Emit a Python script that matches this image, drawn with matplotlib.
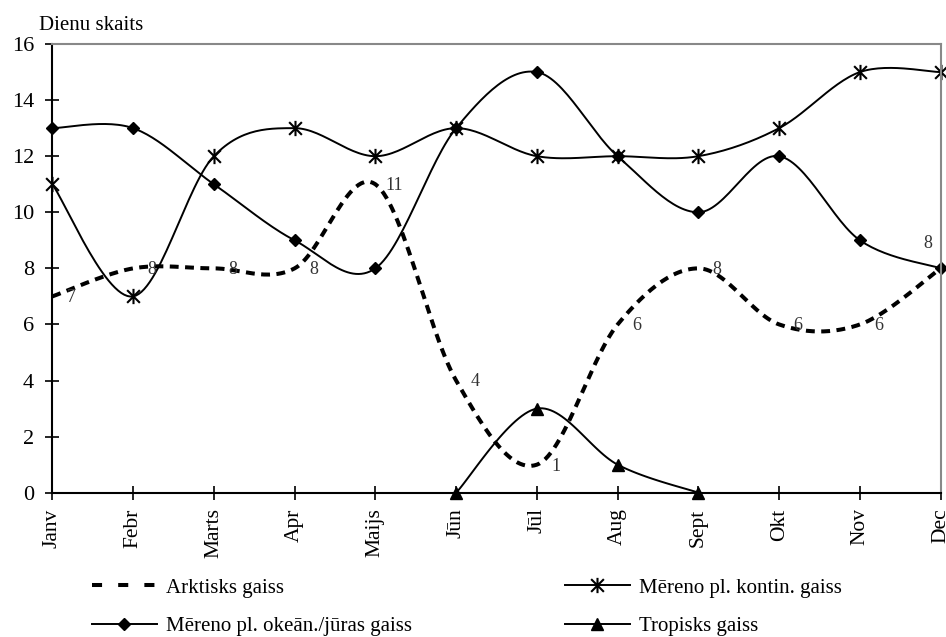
import numpy as np
import matplotlib.pyplot as plt
from matplotlib.path import Path
from matplotlib.lines import Line2D

plt.rcParams['font.family'] = ['Liberation Serif', 'DejaVu Serif']

months = ['Janv', 'Febr', 'Marts', 'Apr', 'Maijs', 'Jūn', 'Jūl', 'Aug',
          'Sept', 'Okt', 'Nov', 'Dec']
arktisks = [7, 8, 8, 8, 11, 4, 1, 6, 8, 6, 6, 8]
kontin = [11, 7, 12, 13, 12, 13, 12, 12, 12, 13, 15, 15]
okeans = [13, 13, 11, 9, 8, 13, 15, 12, 10, 12, 9, 8]
trop_start = 5  # Jūn
tropisks = [0, 3, 1, 0]

names = ['Arktisks gaiss', 'Mēreno pl. kontin. gaiss',
         'Mēreno pl. okeān./jūras gaiss', 'Tropisks gaiss']


def smooth(xs, ys, n=30):
    # bezier smoothing like spreadsheet "smoothed line"
    xs = np.asarray(xs, float)
    ys = np.asarray(ys, float)
    P = np.column_stack([xs, ys])
    out = [P[0]]
    t = np.linspace(0, 1, n)[1:, None]
    for i in range(len(P) - 1):
        p0 = P[i - 1] if i > 0 else P[i]
        p3 = P[i + 2] if i + 2 < len(P) else P[i + 1]
        c1 = P[i] + (P[i + 1] - p0) / 6
        c2 = P[i + 1] - (p3 - P[i]) / 6
        seg = ((1 - t) ** 3 * P[i] + 3 * (1 - t) ** 2 * t * c1
               + 3 * (1 - t) * t ** 2 * c2 + t ** 3 * P[i + 1])
        out.extend(seg)
    out = np.array(out)
    return out[:, 0], out[:, 1]


# asterisk marker: X with a vertical bar
star = Path([(-1, -1), (1, 1), (-1, 1), (1, -1), (0, -1.2), (0, 1.2)],
            [Path.MOVETO, Path.LINETO, Path.MOVETO, Path.LINETO,
             Path.MOVETO, Path.LINETO])

fig = plt.figure(figsize=(9.46, 6.37), dpi=100)
ax = fig.add_axes([0.0553, 0.2265, 0.9391, 0.7044])

x = np.arange(len(months))
dash = (0, (2.2, 1.6))

sx, sy = smooth(x, arktisks)
ax.plot(sx, sy, color='black', lw=2.9, linestyle=dash, dash_capstyle='butt')

sx, sy = smooth(x, kontin)
ax.plot(sx, sy, color='black', lw=1.4)
ax.plot(x, kontin, linestyle='none', marker=star, ms=11, mew=1.5,
        mec='black', mfc='none', clip_on=False)

sx, sy = smooth(x, okeans)
ax.plot(sx, sy, color='black', lw=1.4)
ax.plot(x, okeans, linestyle='none', marker='D', ms=6.5, color='black',
        clip_on=False)

xt = x[trop_start:trop_start + len(tropisks)]
sx, sy = smooth(xt, tropisks)
ax.plot(sx, sy, color='black', lw=1.4)
ax.plot(xt, tropisks, linestyle='none', marker='^', ms=8, color='black',
        clip_on=False)

# value labels on the arctic air series
for i, v in enumerate(arktisks):
    off = (13.5, -1) if i < len(arktisks) - 1 else (-9, 18)
    ax.annotate(str(v), (x[i], v), xytext=off, textcoords='offset points',
                ha='center', va='center', fontsize=13, color='#333333')

ax.set_xlim(0, 11)
ax.set_ylim(0, 16)
ax.set_xticks(x)
ax.set_xticklabels(months, rotation=90, fontsize=15.5)
ax.set_yticks(np.arange(0, 17, 2))
ax.tick_params(axis='y', labelsize=16, direction='inout', length=10.5,
               width=1.2, pad=8)
ax.tick_params(axis='x', direction='inout', length=9.5, width=1.2, pad=6.5)
for s in ['left', 'bottom']:
    ax.spines[s].set_linewidth(1.5)
    ax.spines[s].set_color('black')
for s in ['top', 'right']:
    ax.spines[s].set_linewidth(1.5)
    ax.spines[s].set_color('#888888')

fig.text(39 / 946, 1 - 30 / 637, 'Dienu skaits', fontsize=15,
         va='baseline', ha='left')

h_ark = Line2D([], [], color='black', lw=2.9, linestyle=(0, (2.5, 4)),
               dash_capstyle='butt')
h_kon = Line2D([], [], color='black', lw=1.4, marker=star, ms=11, mew=1.5,
               mfc='none')
h_oke = Line2D([], [], color='black', lw=1.4, marker='D', ms=6.5)
h_tro = Line2D([], [], color='black', lw=1.4, marker='^', ms=8)

leg_kw = dict(frameon=False, fontsize=15, handlelength=3.1,
              handletextpad=0.43, labelspacing=0.9, borderpad=0,
              borderaxespad=0, loc='upper left')
leg1 = fig.legend([h_ark, h_oke], [names[0], names[2]],
                  bbox_to_anchor=(92 / 946, 1 - 578 / 637), **leg_kw)
leg2 = fig.legend([h_kon, h_tro], [names[1], names[3]],
                  bbox_to_anchor=(565 / 946, 1 - 578 / 637), **leg_kw)

fig.savefig('out.png', dpi=100)
